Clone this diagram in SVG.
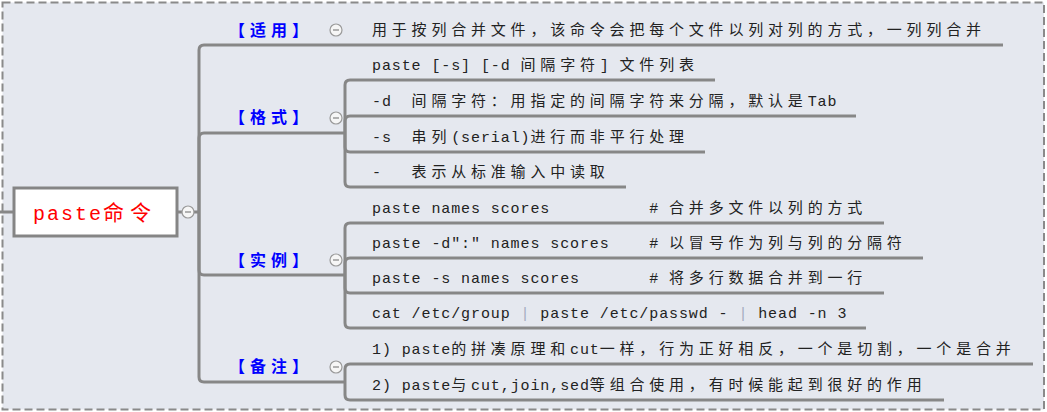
<svg xmlns="http://www.w3.org/2000/svg" width="1047" height="412" viewBox="0 0 1047 412" xml:space="preserve">
<style>
text{white-space:pre;}
.bg{fill:#E5E8EF;stroke:#8A8A8A;stroke-width:2;stroke-dasharray:8 4;}
.ln{fill:none;stroke:#878787;stroke-width:3;}
.t{font-size:15px;fill:#222;}
.a{font-family:"Liberation Mono",monospace;letter-spacing:0.9px;}
.c{font-family:"Noto Sans CJK SC",sans-serif;letter-spacing:4.8px;}
.topic{font-family:"Noto Sans CJK SC",sans-serif;font-size:16px;font-weight:bold;fill:#0000FF;letter-spacing:5px;}
.col circle{fill:#F6F6F6;stroke:#9A9A9A;stroke-width:1.2;}
.col line{stroke:#9A9A9A;stroke-width:1.5;}
.bar{fill:#A4AAC0;}
</style>
<rect x="0" y="0" width="1047" height="412" fill="#FFFFFF"/>
<rect class="bg" x="2.5" y="2.5" width="1041.5" height="407"/>
<g id="connectors">
<path class="ln" d="M0,212 H14"/>
<path class="ln" d="M177,212 H199"/>
<path class="ln" d="M199,212 V50 Q199,45 204,45 H1003"/>
<path class="ln" d="M199,212 V138 Q199,133 204,133 H345"/>
<path class="ln" d="M199,212 V270 Q199,275 204,275 H345"/>
<path class="ln" d="M199,212 V377 Q199,382 204,382 H345"/>
<path class="ln" d="M345,133 V85 Q345,80 350,80 H715"/>
<path class="ln" d="M345,133 V121 Q345,116 350,116 H856"/>
<path class="ln" d="M345,133 V147 Q345,152 350,152 H705"/>
<path class="ln" d="M345,133 V182 Q345,187 350,187 H626"/>
<path class="ln" d="M345,275 V228 Q345,223 350,223 H884"/>
<path class="ln" d="M345,275 V263 Q345,258 350,258 H923"/>
<path class="ln" d="M345,275 V288 Q345,293 350,293 H884"/>
<path class="ln" d="M345,275 V323 Q345,328 350,328 H866"/>
<path class="ln" d="M345,382 V369 Q345,364 350,364 H1033"/>
<path class="ln" d="M345,382 V395 Q345,400 350,400 H944"/>
</g>
<g id="root">
<rect x="14" y="188" width="163" height="48" fill="#FFFFFF" stroke="#858585" stroke-width="3"/>
<text x="33" y="220" fill="#FF0000"><tspan font-family="Liberation Mono, monospace" font-size="20" letter-spacing="2">paste</tspan><tspan font-family="Noto Sans CJK SC, sans-serif" font-size="21" letter-spacing="6">命令</tspan></text>
<g class="col"><circle cx="188" cy="212" r="6"/><line x1="185" y1="212" x2="191" y2="212"/></g>
</g>
<g id="topic-shiyong">
<text class="topic" x="229" y="36">【适用】</text>
<g class="col"><circle cx="336" cy="30" r="6"/><line x1="333" y1="30" x2="339" y2="30"/></g>
</g>
<g id="topic-geshi">
<text class="topic" x="229" y="123">【格式】</text>
<g class="col"><circle cx="336" cy="118" r="6"/><line x1="333" y1="118" x2="339" y2="118"/></g>
</g>
<g id="topic-shili">
<text class="topic" x="229" y="266">【实例】</text>
<g class="col"><circle cx="336" cy="260" r="6"/><line x1="333" y1="260" x2="339" y2="260"/></g>
</g>
<g id="topic-beizhu">
<text class="topic" x="229" y="372">【备注】</text>
<g class="col"><circle cx="336" cy="367" r="6"/><line x1="333" y1="367" x2="339" y2="367"/></g>
</g>
<g id="node-shiyong-1"><text class="t" x="372" y="35"><tspan class="c">用于按列合并文件，该命令会把每个文件以列对列的方式，一列列合并</tspan></text></g>
<g id="node-geshi-1"><text class="t" x="372" y="70"><tspan class="a">paste [-s] [-d </tspan><tspan class="c">间隔字符</tspan><tspan class="a">] </tspan><tspan class="c">文件列表</tspan></text></g>
<g id="node-geshi-2"><text class="t" x="372" y="106"><tspan class="a">-d  </tspan><tspan class="c">间隔字符：用指定的间隔字符来分隔，默认是</tspan><tspan class="a">Tab</tspan></text></g>
<g id="node-geshi-3"><text class="t" x="372" y="142"><tspan class="a">-s  </tspan><tspan class="c">串列</tspan><tspan class="a">(serial)</tspan><tspan class="c">进行而非平行处理</tspan></text></g>
<g id="node-geshi-4"><text class="t" x="372" y="177"><tspan class="a">-   </tspan><tspan class="c">表示从标准输入中读取</tspan></text></g>
<g id="node-shili-1"><text class="t" x="372" y="213"><tspan class="a">paste names scores          # </tspan><tspan class="c">合并多文件以列的方式</tspan></text></g>
<g id="node-shili-2"><text class="t" x="372" y="248"><tspan class="a">paste -d":" names scores    # </tspan><tspan class="c">以冒号作为列与列的分隔符</tspan></text></g>
<g id="node-shili-3"><text class="t" x="372" y="283"><tspan class="a">paste -s names scores       # </tspan><tspan class="c">将多行数据合并到一行</tspan></text></g>
<g id="node-shili-4"><text class="t" x="372" y="318"><tspan class="a">cat /etc/group </tspan><tspan class="a bar">|</tspan><tspan class="a"> paste /etc/passwd - </tspan><tspan class="a bar">|</tspan><tspan class="a"> head -n 3</tspan></text></g>
<g id="node-beizhu-1"><text class="t" x="372" y="354"><tspan class="a">1) paste</tspan><tspan class="c">的拼凑原理和</tspan><tspan class="a">cut</tspan><tspan class="c">一样，行为正好相反，一个是切割，一个是合并</tspan></text></g>
<g id="node-beizhu-2"><text class="t" x="372" y="390"><tspan class="a">2) paste</tspan><tspan class="c">与</tspan><tspan class="a">cut,join,sed</tspan><tspan class="c">等组合使用，有时候能起到很好的作用</tspan></text></g>
</svg>
